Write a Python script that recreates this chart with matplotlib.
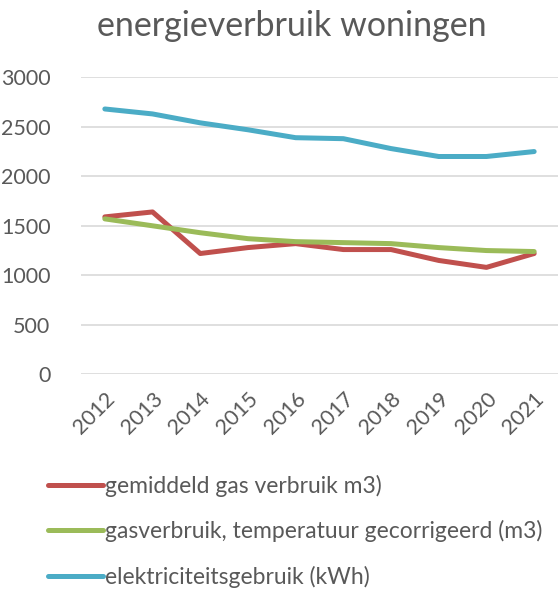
"""Energieverbruik woningen: line chart, Excel-style."""

import matplotlib

matplotlib.use("Agg")
import matplotlib.pyplot as plt

plt.rcParams["font.family"] = ["Lato", "DejaVu Sans"]

YEARS = ["2012", "2013", "2014", "2015", "2016", "2017", "2018", "2019", "2020", "2021"]
GAS = [1590, 1640, 1220, 1280, 1320, 1260, 1260, 1150, 1080, 1220]
GAS_CORR = [1570, 1500, 1430, 1370, 1340, 1330, 1320, 1280, 1250, 1240]
ELEC = [2680, 2630, 2540, 2470, 2390, 2380, 2280, 2200, 2200, 2250]

LABELS = [
    "gemiddeld gas verbruik m3)",
    "gasverbruik, temperatuur gecorrigeerd (m3)",
    "elektriciteitsgebruik (kWh)",
]
COLORS = ["#C0504D", "#9BBB59", "#4BACC6"]
TEXT = "#595959"

W, H = 559, 590
fig = plt.figure(figsize=(W / 100, H / 100), dpi=100)
ax = fig.add_axes([81 / W, 1 - 374.3 / H, (558 - 81) / W, (374.3 - 77.3) / H])

x = list(range(len(YEARS)))
for series, label, color in zip([GAS, GAS_CORR, ELEC], LABELS, COLORS):
    ax.plot(x, series, color=color, lw=3.6, label=label,
            solid_capstyle="round", solid_joinstyle="round")

ax.set_ylim(0, 3000)
ax.set_yticks(range(0, 3001, 500))
ax.set_xlim(-0.5, len(YEARS) - 0.5)
ax.set_xticks(x)
ax.set_xticklabels(YEARS, rotation=45, ha="right", rotation_mode="anchor")
ax.tick_params(axis="both", length=0, labelsize=15.5, labelcolor=TEXT)
ax.tick_params(axis="y", pad=22)
ax.tick_params(axis="x", pad=10)
ax.grid(axis="y", color="#D9D9D9", lw=1.2)
ax.set_axisbelow(True)
for s in ax.spines.values():
    s.set_visible(False)

fig.text(292 / W, 1 - 26 / H, "energieverbruik woningen", ha="center", va="center",
         fontsize=24.5, color=TEXT)

fig.legend(loc="upper left", bbox_to_anchor=(27 / W, 1 - 454 / H), frameon=False,
           fontsize=16.5, labelcolor=TEXT, handlelength=2.4, handletextpad=0.1,
           labelspacing=1.02)

fig.savefig("out.png", dpi=100)
